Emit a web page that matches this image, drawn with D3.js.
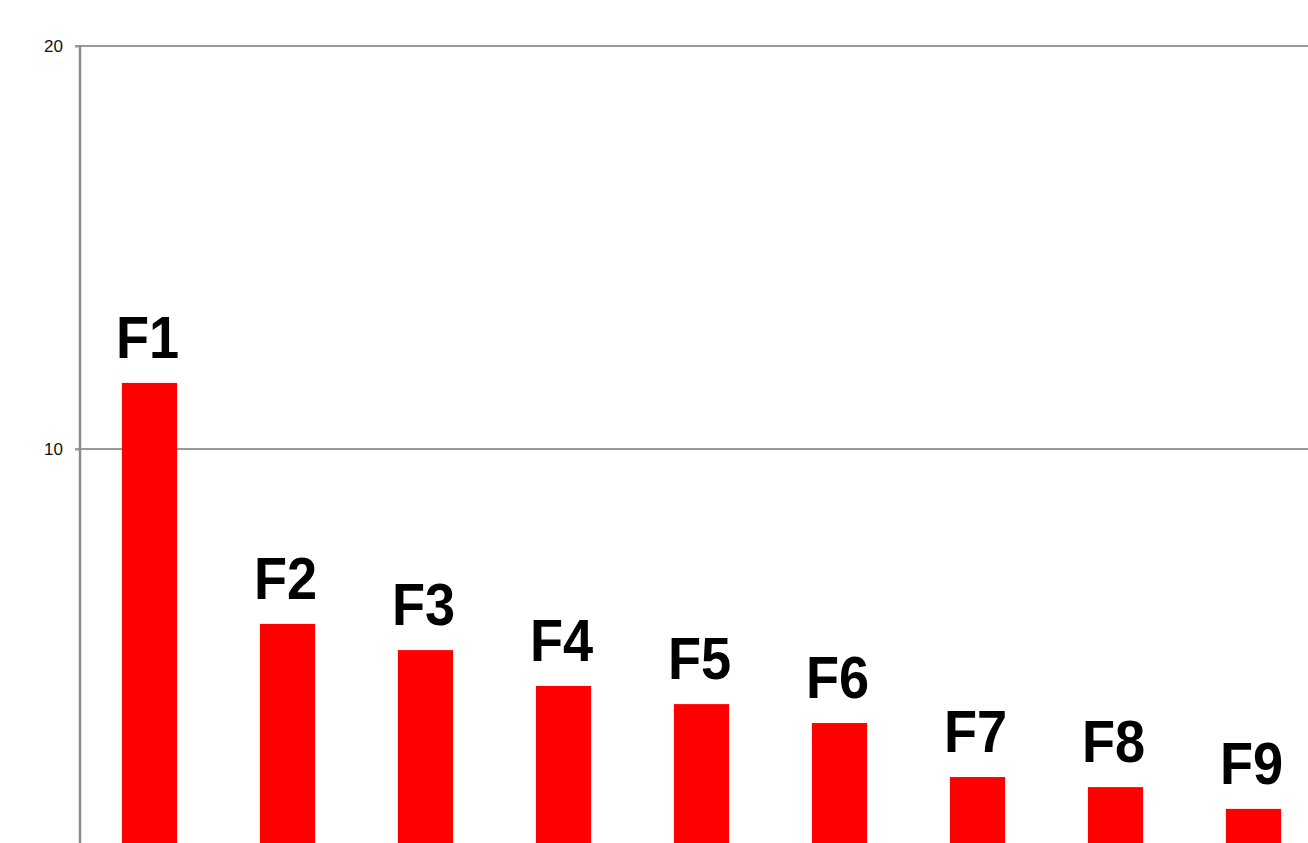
<!DOCTYPE html>
<html>
<head>
<meta charset="utf-8">
<script src="https://cdn.jsdelivr.net/npm/d3@7"></script>
<style>
  html, body { margin: 0; padding: 0; background: #fff; overflow: hidden; }
</style>
</head>
<body>
<div id="chart"></div>
<script>
'use strict';

var categories = ['F1', 'F2', 'F3', 'F4', 'F5', 'F6', 'F7', 'F8', 'F9'];
var values = [11.64, 5.66, 5.01, 4.12, 3.67, 3.2, 1.86, 1.61, 1.07];
var tickValues = [10, 20];

var width = 1308;
var height = 843;

var svg = d3.select('#chart').append('svg')
	.attr('width', width)
	.attr('height', height);

// plot runs past the bottom/right edge of the window, like the reference crop
var x = d3.scaleBand()
	.domain(categories)
	.range([80.5, 1322.5])
	.paddingInner(0.6)
	.paddingOuter(0.3);

var y = d3.scaleLinear()
	.domain([0, 20])
	.range([852, 46]);

// gridlines
svg.append('g')
	.attr('class', 'grid')
	.selectAll('line')
	.data(tickValues)
	.enter().append('line')
		.attr('x1', 75)
		.attr('x2', width)
		.attr('y1', function(d) { return y(d); })
		.attr('y2', function(d) { return y(d); })
		.attr('stroke', '#999')
		.attr('stroke-width', 2);

// bars
svg.append('g')
	.attr('class', 'bars')
	.selectAll('rect')
	.data(values)
	.enter().append('rect')
		.attr('x', function(d, i) { return x(categories[i]); })
		.attr('width', x.bandwidth())
		.attr('y', function(d) { return y(d); })
		.attr('height', function(d) { return y(0) - y(d); })
		.attr('fill', '#ff0000');

// y axis
var yAxis = svg.append('g')
	.attr('transform', 'translate(80,0)')
	.call(d3.axisLeft(y).tickValues(tickValues).tickSize(5).tickPadding(12).tickFormat(d3.format('d')));

yAxis.select('.domain').remove();
yAxis.selectAll('.tick line').attr('stroke', '#999').attr('stroke-width', 2);
yAxis.selectAll('.tick text')
	.attr('fill', '#111')
	.style('font-family', 'Liberation Sans, Arial, sans-serif')
	.style('font-size', '17px');

svg.append('line')
	.attr('x1', 80).attr('x2', 80)
	.attr('y1', y(20) - 1).attr('y2', height)
	.attr('stroke', '#8c8c8c')
	.attr('stroke-width', 2.5);

// bar labels (font in the reference is a bit taller than it is wide)
svg.append('g')
	.attr('class', 'labels')
	.selectAll('text')
	.data(values)
	.enter().append('text')
		.attr('transform', function(d, i) {
			return 'translate(' + (x(categories[i]) + x.bandwidth() / 2 - 2) + ',' + (y(d) - 25) + ') scale(0.95,1.03)';
		})
		.attr('text-anchor', 'middle')
		.style('font-family', 'Liberation Sans, Arial, sans-serif')
		.style('font-weight', 'bold')
		.style('font-size', '57px')
		.attr('fill', '#000')
		.text(function(d, i) { return categories[i]; });
</script>
</body>
</html>
